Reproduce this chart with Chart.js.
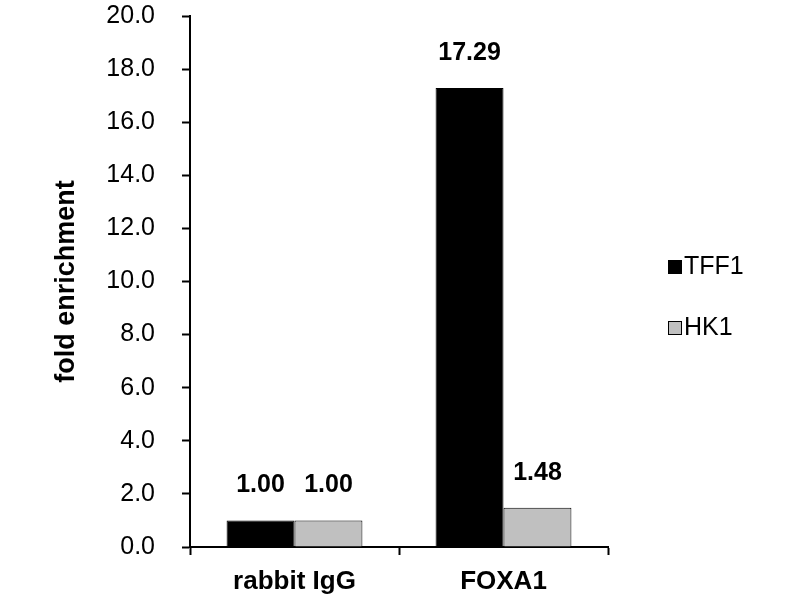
<!DOCTYPE html>
<html>
<head>
<meta charset="utf-8">
<script src="https://cdn.jsdelivr.net/npm/chart.js@4"></script>
<style>
  html, body { margin: 0; padding: 0; background: #fff; }
  #wrap { width: 800px; height: 600px; }
</style>
</head>
<body>
<div id="wrap"><canvas id="enrichmentChart" width="800" height="600"></canvas></div>
<script>
var categories = ['rabbit IgG', 'FOXA1'];
var tff1 = [1.00, 17.29];
var hk1 = [1.00, 1.48];
var seriesNames = ['TFF1', 'HK1'];

var font = 'Arial, "Liberation Sans", sans-serif';

// value labels above each bar
var valueLabels = {
    id: 'valueLabels',
    afterDatasetsDraw: function (chart) {
        var ctx = chart.ctx;
        ctx.save();
        ctx.font = 'bold 25px ' + font;
        ctx.fillStyle = '#000';
        ctx.textAlign = 'center';
        ctx.textBaseline = 'middle';
        chart.data.datasets.forEach(function (ds, i) {
            chart.getDatasetMeta(i).data.forEach(function (bar, j) {
                ctx.fillText(ds.data[j].toFixed(2), bar.x, bar.y - 35);
            });
        });
        ctx.restore();
    }
};

// legend on the right, square swatch + text
var sideLegend = {
    id: 'sideLegend',
    afterDraw: function (chart) {
        var ctx = chart.ctx;
        ctx.save();
        ctx.font = '25px ' + font;
        ctx.textBaseline = 'middle';
        ctx.textAlign = 'left';
        chart.data.datasets.forEach(function (ds, i) {
            var y = 267 + i * 61;
            ctx.fillStyle = ds.backgroundColor;
            ctx.fillRect(668, y - 7, 14, 14);
            ctx.strokeStyle = '#000';
            ctx.lineWidth = 1;
            ctx.strokeRect(668.5, y - 6.5, 13, 13);
            ctx.fillStyle = '#000';
            ctx.fillText(ds.label, 684, y);
        });
        ctx.restore();
    }
};

var ctx = document.getElementById('enrichmentChart').getContext('2d');
var enrichmentChart = new Chart(ctx, {
    type: 'bar',
    data: {
        labels: categories,
        datasets: [{
            label: seriesNames[0],
            data: tff1,
            backgroundColor: '#000000',
            borderColor: '#000000',
            borderWidth: 1
        },
        {
            label: seriesNames[1],
            data: hk1,
            backgroundColor: '#c0c0c0',
            borderColor: '#000000',
            borderWidth: 1
        }]
    },
    options: {
        responsive: false,
        animation: false,
        layout: {
            padding: { left: 0, right: 192, top: 16, bottom: 3 }
        },
        datasets: {
            bar: { categoryPercentage: 0.65, barPercentage: 1.0 }
        },
        plugins: {
            legend: { display: false },
            tooltip: { enabled: false }
        },
        scales: {
            x: {
                afterFit: function (scale) {
                    scale.height = 50;
                    scale.paddingLeft = 0;
                    scale.paddingRight = 0;
                },
                grid: {
                    offset: true,
                    drawOnChartArea: false,
                    tickLength: 8,
                    tickWidth: 2,
                    tickColor: '#000'
                },
                border: { color: '#000', width: 2 },
                ticks: {
                    color: '#000',
                    padding: 11,
                    font: { family: font, size: 26, weight: 'bold' }
                }
            },
            y: {
                min: 0,
                max: 20,
                afterFit: function (scale) {
                    scale.width = 190;
                    scale.paddingTop = 0;
                    scale.paddingBottom = 0;
                },
                grid: {
                    drawOnChartArea: false,
                    tickLength: 8,
                    tickWidth: 2,
                    tickColor: '#000'
                },
                border: { color: '#000', width: 2 },
                ticks: {
                    stepSize: 2,
                    color: '#000',
                    padding: 27,
                    font: { family: font, size: 25 },
                    callback: function (v) { return v.toFixed(1); }
                },
                title: {
                    display: true,
                    text: 'fold enrichment',
                    color: '#000',
                    padding: { top: 50, bottom: 0 },
                    font: { family: font, size: 27, weight: 'bold' }
                }
            }
        }
    },
    plugins: [valueLabels, sideLegend]
});
</script>
</body>
</html>
